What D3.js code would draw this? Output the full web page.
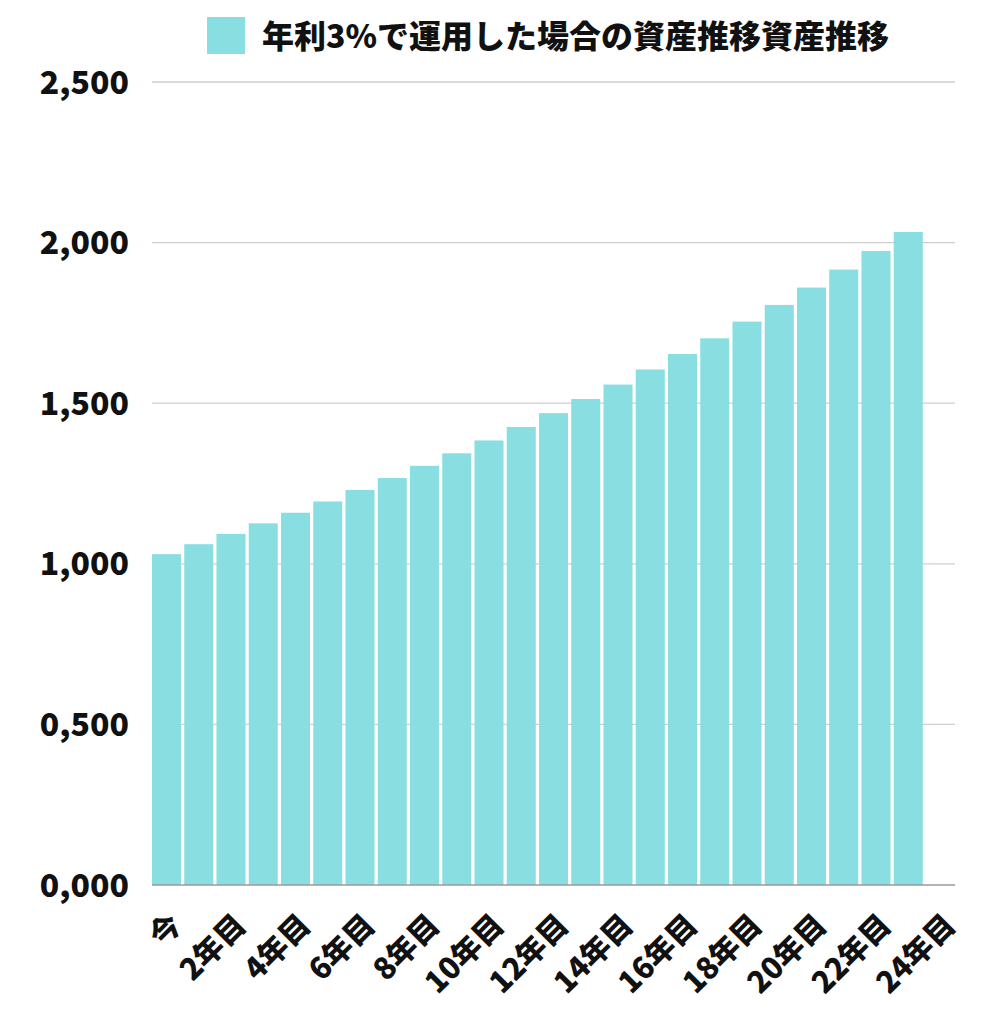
<!DOCTYPE html>
<html><head><meta charset="utf-8">
<script src="https://cdn.jsdelivr.net/npm/d3@7"></script>
<style>html,body{margin:0;padding:0;background:#fff;}</style>
</head><body>
<svg id="c" width="990" height="1024"></svg>
<script>
const categories = ["今","1年目","2年目","3年目","4年目","5年目","6年目","7年目","8年目","9年目","10年目","11年目","12年目","13年目","14年目","15年目","16年目","17年目","18年目","19年目","20年目","21年目","22年目","23年目","24年目"];
const values = [1030,1061,1093,1126,1159,1194,1230,1267,1305,1344,1384,1426,1469,1513,1558,1605,1653,1702,1754,1806,1860,1916,1974,2033,null];
const yTicks = [0,500,1000,1500,2000,2500];
const yTickLabels = ["0,000","0,500","1,000","1,500","2,000","2,500"];
const seriesName = "年利3%で運用した場合の資産推移資産推移";

const color = "#88DEE1";
const font = "'Noto Sans CJK JP','Noto Sans',sans-serif";
const svg = d3.select("#c");
const mLeft = 152, mRight = 955, mTop = 82, mBottom = 885;

const x = d3.scaleBand().domain(categories).range([mLeft, mRight]).paddingInner(0.1).paddingOuter(0);
const y = d3.scaleLinear().domain([0, 2500]).range([mBottom, mTop]);

// grid
svg.append("g").selectAll("line").data(yTicks.filter(d=>d>0)).join("line")
  .attr("x1", mLeft).attr("x2", mRight)
  .attr("y1", d=>y(d)).attr("y2", d=>y(d))
  .attr("stroke", "#cfcfcf").attr("stroke-width", 1.3);

// bars
svg.append("g").selectAll("rect").data(categories.map((c,i)=>({c, v: values[i]})).filter(d=>d.v!=null)).join("rect")
  .attr("x", d=>x(d.c)).attr("width", x.bandwidth())
  .attr("y", d=>y(d.v)).attr("height", d=>y(0)-y(d.v))
  .attr("fill", color);

// baseline
svg.append("line").attr("x1", mLeft).attr("x2", mRight).attr("y1", y(0)).attr("y2", y(0))
  .attr("stroke", "#9a9a9a").attr("stroke-width", 1.3);

// y labels
svg.append("g").selectAll("text").data(yTicks).join("text")
  .attr("x", 129).attr("y", d=>y(d)).attr("dy", "0.36em")
  .attr("text-anchor", "end")
  .attr("font-family", font).attr("font-weight", 900).attr("font-size", 32)
  .attr("fill", "#111")
  .text((d,i)=>yTickLabels[i]);

// x labels
svg.append("g").selectAll("text").data(categories.filter((c,i)=>i%2===0)).join("text")
  .attr("transform", d=>`translate(${x(d)+x.bandwidth()/2+17},${mBottom+42}) rotate(-45)`)
  .attr("text-anchor", "end")
  .attr("font-family", font).attr("font-weight", 900).attr("font-size", 30)
  .attr("fill", "#111")
  .text(d=>d);

// legend
svg.append("rect").attr("x", 207).attr("y", 17).attr("width", 38).attr("height", 37).attr("fill", color);
svg.append("text").attr("x", 262).attr("y", 48)
  .attr("font-family", font).attr("font-weight", 900).attr("font-size", 32)
  .attr("fill", "#111").text(seriesName);
</script>
</body></html>
